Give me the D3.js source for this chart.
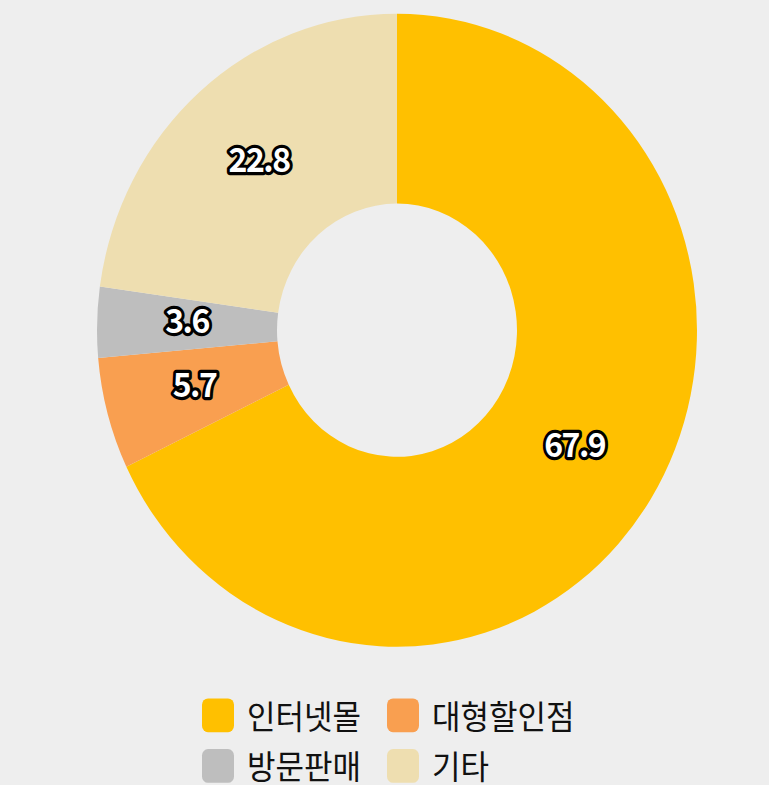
<!DOCTYPE html>
<html>
<head>
<meta charset="utf-8">
<script src="https://cdn.jsdelivr.net/npm/d3@7"></script>
<style>
    html, body { margin: 0; padding: 0; background: #eeeeee; }
    svg { display: block; }
    .slice-label {
        font-family: "Noto Sans CJK KR", "Noto Sans", sans-serif;
        font-weight: bold;
        fill: #ffffff;
        stroke: #000000;
        stroke-width: 6px;
        stroke-linejoin: round;
        paint-order: stroke;
    }
    .legend-label {
        font-family: "Noto Sans CJK KR", sans-serif;
        fill: #111111;
    }
</style>
</head>
<body>
<div id="chart"></div>
<script>
    const categories = ['인터넷몰', '대형할인점', '방문판매', '기타'];
    const values = [67.9, 5.7, 3.6, 22.8];
    const colors = ['#ffc000', '#f99f50', '#bebebe', '#eedeb0'];

    const WIDTH = 769, HEIGHT = 785;
    const STRETCH = 1.055; // picture is a little taller than wide
    const CX = 397, CY = 313, OUTER = 300, INNER = 120;

    const svg = d3.select('#chart').append('svg')
        .attr('width', WIDTH)
        .attr('height', HEIGHT);

    svg.append('rect').attr('width', WIDTH).attr('height', HEIGHT).attr('fill', '#eeeeee');

    const root = svg.append('g').attr('transform', `scale(1, ${STRETCH})`);

    const data = categories.map((name, i) => ({ name, value: values[i], color: colors[i] }));

    const pie = d3.pie().sort(null).value(d => d.value);
    const arc = d3.arc().innerRadius(INNER).outerRadius(OUTER);
    const arcs = pie(data);

    const donut = root.append('g').attr('transform', `translate(${CX}, ${CY})`);

    donut.selectAll('path').data(arcs).join('path')
        .attr('d', arc)
        .attr('fill', d => d.data.color);

    donut.selectAll('text').data(arcs).join('text')
        .attr('class', 'slice-label')
        .attr('transform', d => `translate(${arc.centroid(d)})`)
        .attr('text-anchor', 'middle')
        .attr('dominant-baseline', 'central')
        .attr('dy', -6)
        .style('font-size', '32px')
        .style('letter-spacing', '-1.5px')
        .text(d => d.data.value.toFixed(1));

    // --- Legend: 2 x 2 grid under the donut ---
    const COL_X = [202, 387], ROW_Y = [678, 726];
    const SWATCH = 32;

    const legend = root.append('g');
    data.forEach((d, i) => {
        const row = legend.append('g')
            .attr('transform', `translate(${COL_X[i % 2]}, ${ROW_Y[Math.floor(i / 2)]})`);
        row.append('rect')
            .attr('x', 0).attr('y', -SWATCH / 2)
            .attr('width', SWATCH).attr('height', SWATCH)
            .attr('rx', 6).attr('ry', 6)
            .attr('fill', d.color);
        row.append('text')
            .attr('class', 'legend-label')
            .attr('x', 45).attr('y', -1)
            .attr('dominant-baseline', 'central')
            .style('font-size', '31px')
            .text(d.name);
    });
</script>
</body>
</html>
